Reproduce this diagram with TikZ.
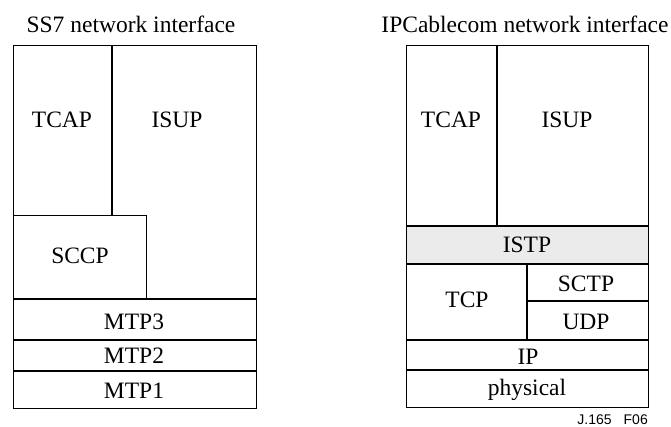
\documentclass[tikz,border=0pt]{standalone}
\usepackage{fontspec}
\setmainfont{Liberation Serif}
\newfontfamily\figsans{Liberation Sans}
\begin{document}
\begin{tikzpicture}[x=1pt,y=-1pt,
  frame/.style={draw=black,line width=0.9pt},
  divider/.style={draw=black,line width=1.5pt},
  lbl/.style={inner sep=0pt,anchor=base,font=\fontsize{23.5}{28}\selectfont},
  ttl/.style={inner sep=0pt,anchor=base,font=\fontsize{23.5}{28}\selectfont},
  tag/.style={inner sep=0pt,font=\figsans\fontsize{14}{16}\selectfont,anchor=base east}]
\useasboundingbox (0,0) rectangle (671,427);

% ---- SS7 stack ----
\node[ttl] (t1) at (131,33) {SS7 network interface};
\draw[divider] (13,299) -- (256,299);
\draw[divider] (13,340) -- (256,340);
\draw[divider] (13,371) -- (256,371);
\draw[divider] (112,45) -- (112,215);
\draw[frame] (13,215) -- (146,215) -- (146,299);
\draw[frame] (13,45) rectangle (256,408);
\node[lbl] (tcap1) at (62,128) {TCAP};
\node[lbl] (isup1) at (177,128) {ISUP};
\node[lbl] (sccp) at (80,264) {SCCP};
\node[lbl] (mtp3) at (134,329) {MTP3};
\node[lbl] (mtp2) at (134,363) {MTP2};
\node[lbl] (mtp1) at (134,398) {MTP1};

% ---- IPCablecom stack ----
\node[ttl] (t2) at (525,33) {IPCablecom network interface};
\fill[black!8] (406,226) rectangle (648,264);
\draw[divider] (497,45) -- (497,226);
\draw[divider] (406,226) -- (648,226);
\draw[divider] (406,264) -- (648,264);
\draw[divider] (527,264) -- (527,340);
\draw[divider] (527,301) -- (648,301);
\draw[divider] (406,340) -- (648,340);
\draw[divider] (406,370) -- (648,370);
\draw[frame] (406,45) rectangle (648,407);
\node[lbl] (tcap2) at (451,128) {TCAP};
\node[lbl] (isup2) at (567,128) {ISUP};
\node[lbl] (istp) at (527,253) {ISTP};
\node[lbl] (tcp) at (467,307) {TCP};
\node[lbl] (sctp) at (586,291) {SCTP};
\node[lbl] (udp) at (586,329) {UDP};
\node[lbl] (ip) at (528,364) {IP};
\node[lbl] (phys) at (527,395) {physical};

\node[tag] (fig) at (648,424) {J.165\hspace{12pt}F06};
\end{tikzpicture}
\end{document}
